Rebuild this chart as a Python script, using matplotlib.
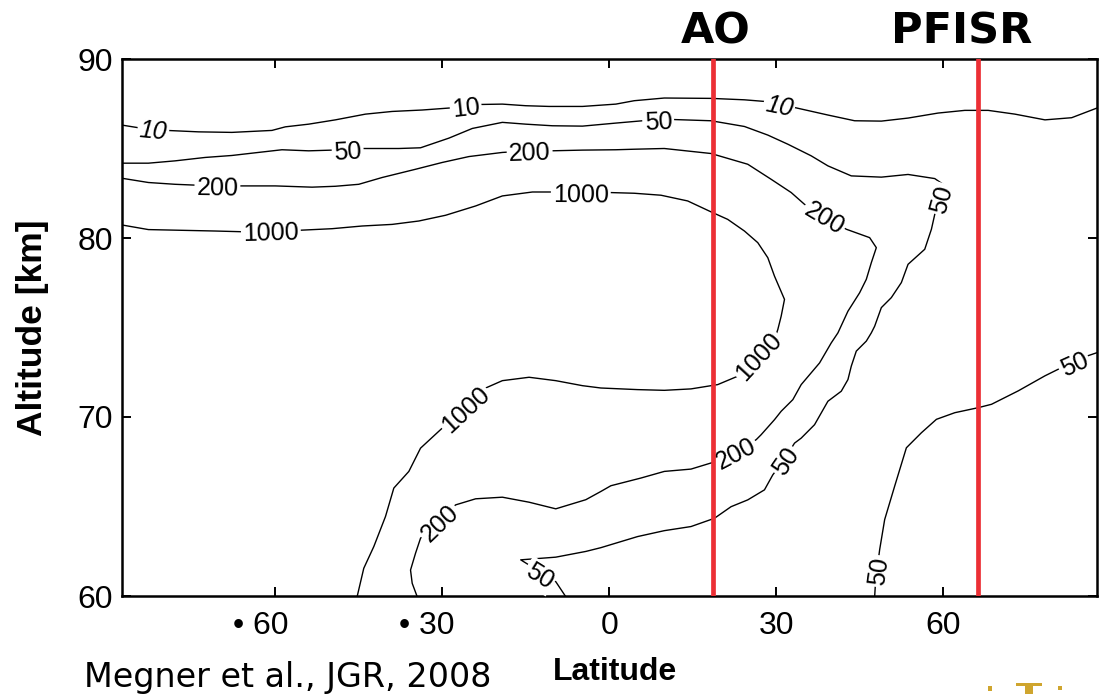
import matplotlib
matplotlib.use("Agg")
import matplotlib.pyplot as plt
import matplotlib.transforms as mtransforms
import numpy as np
from matplotlib.patches import Rectangle

# Contour lines (latitude, altitude km)
c10 = [(-87.6, 86.31), (-84.6, 86.16), (-81.9, 86.08), (-79.5, 86.01), (-73.8, 85.93),
       (-67.8, 85.90), (-60.6, 86.01), (-58.2, 86.21), (-54.0, 86.36), (-49.2, 86.60),
       (-43.8, 86.92), (-39.0, 87.07), (-33.6, 87.15), (-28.8, 87.26), (-25.8, 87.36),
       (-23.1, 87.46), (-19.2, 87.48), (-15.0, 87.39), (-10.8, 87.35), (-4.8, 87.35),
       (1.2, 87.48), (4.5, 87.67), (9.9, 87.82), (18.3, 87.80), (24.3, 87.72),
       (27.9, 87.63), (30.6, 87.46), (33.3, 87.29), (39.3, 86.87), (44.1, 86.55),
       (48.9, 86.53), (53.7, 86.70), (59.1, 86.98), (63.9, 87.13), (68.1, 87.13),
       (72.9, 86.92), (78.3, 86.60), (83.1, 86.72), (87.9, 87.29)]

c50_upper = [(-87.6, 84.18), (-82.8, 84.18), (-78.0, 84.31), (-72.6, 84.50), (-67.8, 84.61),
             (-63.6, 84.76), (-58.8, 84.93), (-54.0, 84.87), (-49.8, 84.91), (-47.0, 84.95),
             (-44.4, 85.00), (-37.8, 85.00), (-33.9, 85.04), (-28.8, 85.58), (-24.6, 86.12),
             (-19.2, 86.46), (-15.0, 86.36), (-10.2, 86.27), (-4.8, 86.25), (1.2, 86.42),
             (6.0, 86.55), (8.8, 86.58), (11.4, 86.62), (18.3, 86.55), (24.3, 86.23),
             (28.5, 85.75), (32.1, 85.24), (36.3, 84.59), (39.3, 84.03), (43.5, 83.47),
             (48.9, 83.40), (53.7, 83.55), (58.5, 83.32), (60.0, 83.00), (59.4, 82.20),
             (58.5, 81.32), (57.9, 80.49), (56.7, 79.37), (53.7, 78.53), (52.5, 77.51),
             (50.7, 76.67), (48.9, 76.11), (47.7, 75.07), (47.1, 74.70), (46.2, 74.24),
             (44.4, 73.68), (43.5, 72.84), (42.9, 72.09), (41.7, 71.44), (39.3, 70.88),
             (36.9, 69.57), (34.5, 68.82), (33.3, 68.54), (31.4, 67.60), (29.4, 66.77),
             (27.9, 65.93), (24.9, 65.37), (21.9, 64.99), (18.9, 64.34), (14.7, 63.88),
             (9.9, 63.65), (5.1, 63.32), (-1.5, 62.70), (-4.2, 62.49), (-9.6, 62.17),
             (-15.9, 62.02), (-14.4, 61.73), (-12.3, 61.23), (-9.6, 60.80), (-7.8, 59.96)]

c50_right = [(47.7, 59.96), (47.9, 61.0), (48.1, 61.4), (48.6, 62.59), (49.5, 64.27),
             (51.3, 66.14), (53.4, 68.28), (56.1, 69.12), (58.8, 69.87), (62.1, 70.24),
             (66.3, 70.52), (68.7, 70.71), (73.5, 71.46), (78.3, 72.30), (80.7, 72.67),
             (83.4, 73.05), (86.1, 73.43), (87.9, 73.62)]

c200 = [(-87.6, 83.34), (-82.8, 83.10), (-78.0, 83.00), (-74.1, 82.95), (-70.4, 82.92),
        (-66.6, 82.91), (-60.0, 82.91), (-53.4, 82.84), (-49.2, 82.89), (-45.0, 83.00),
        (-40.8, 83.38), (-34.8, 83.84), (-30.0, 84.22), (-25.2, 84.55), (-19.2, 84.78),
        (-14.3, 84.87), (-10.5, 84.87), (-4.8, 84.91), (1.2, 84.93), (4.5, 84.96),
        (9.9, 85.00), (18.3, 84.72), (24.9, 84.12), (29.1, 83.28), (32.7, 82.54),
        (35.1, 81.88), (38.8, 81.20), (42.6, 80.49), (46.8, 80.02), (48.0, 79.46),
        (47.1, 78.62), (46.2, 77.69), (45.0, 76.94), (42.9, 75.91), (41.1, 74.70),
        (39.9, 74.14), (37.8, 73.02), (34.5, 71.81), (33.0, 70.97), (30.9, 70.32),
        (29.7, 69.85), (27.3, 69.01), (26.4, 68.73), (22.6, 68.05), (18.6, 67.46),
        (14.7, 67.09), (9.9, 66.96), (5.7, 66.59), (0.3, 66.16), (-1.5, 65.84),
        (-4.2, 65.38), (-9.6, 64.87), (-14.4, 65.24), (-19.2, 65.52), (-24.0, 65.43),
        (-27.6, 65.09), (-30.75, 64.16), (-33.9, 63.23), (-34.8, 62.39), (-35.7, 61.45),
        (-35.4, 60.71), (-34.5, 59.96)]

c1000 = [(-87.6, 80.73), (-82.8, 80.47), (-76.8, 80.43), (-70.8, 80.39), (-66.0, 80.35),
         (-60.8, 80.39), (-55.8, 80.43), (-49.8, 80.52), (-44.4, 80.67), (-39.0, 80.76),
         (-34.2, 80.95), (-29.4, 81.27), (-24.0, 81.79), (-19.2, 82.35), (-13.8, 82.57),
         (-10.2, 82.57), (-5.1, 82.55), (0.0, 82.54), (4.5, 82.50), (9.3, 82.39),
         (14.1, 82.07), (18.3, 81.46), (21.3, 81.04), (24.3, 80.39), (26.7, 79.74),
         (28.5, 78.90), (29.7, 77.87), (31.5, 76.57), (30.9, 75.63), (30.3, 74.89),
         (30.0, 74.61), (26.6, 73.45), (23.1, 72.28), (19.5, 71.81), (14.7, 71.57),
         (9.9, 71.49), (5.1, 71.53), (-1.5, 71.62), (-4.8, 71.75), (-9.6, 72.03),
         (-14.4, 72.22), (-19.2, 72.03), (-22.2, 71.62), (-26.1, 70.50), (-30.0, 69.38),
         (-33.9, 68.26), (-36.0, 66.96), (-38.7, 66.03), (-40.2, 64.44), (-42.3, 62.76),
         (-44.1, 61.55), (-45.3, 59.96)]

# contour labels: (text, line, lat, alt, italic)
labels = [("10", "c10", -81.9, 86.08, True), ("10", "c10", -25.8, 87.36, False),
          ("10", "c10", 30.6, 87.46, True),
          ("50", "c50_upper", -47.0, 84.95, False), ("50", "c50_upper", 8.8, 86.58, False),
          ("50", "c50_upper", 59.4, 82.20, False), ("50", "c50_upper", 31.4, 67.60, False),
          ("50", "c50_upper", -12.3, 61.23, False),
          ("50", "c50_right", 48.1, 61.4, False), ("50", "c50_right", 83.4, 73.05, False),
          ("200", "c200", -70.4, 82.92, False), ("200", "c200", -14.3, 84.87, False),
          ("200", "c200", 38.8, 81.20, False), ("200", "c200", 22.6, 68.05, False),
          ("200", "c200", -30.75, 64.16, False),
          ("1000", "c1000", -60.8, 80.39, False), ("1000", "c1000", -5.1, 82.55, False),
          ("1000", "c1000", 26.6, 73.45, False), ("1000", "c1000", -26.1, 70.50, False)]

lines = {"c10": c10, "c50_upper": c50_upper, "c50_right": c50_right,
         "c200": c200, "c1000": c1000}

radar_names = ["AO", "PFISR"]
radar_lat = [18.7, 66.3]
radar_text_lat = [19.2, 63.3]

x_ticks = [-60, -30, 0, 30, 60]
x_tick_labels = ["\u2022 60", "\u2022 30", "0", "30", "60"]
y_ticks = [60, 70, 80, 90]

W, H = 1105, 694
fig = plt.figure(figsize=(W / 100, H / 100), dpi=100)
ax = fig.add_axes([121.7 / W, 1 - 596 / H, (1096.7 - 121.7) / W, (596 - 59) / H])
ax.set_xlim(-87.6, 87.6)
ax.set_ylim(60, 90)

for name, pts in lines.items():
    arr = np.array(pts)
    ax.plot(arr[:, 0], arr[:, 1], color="black", lw=1.0, zorder=2)

# contour labels oriented along the line
for txt, key, la, al, ital in labels:
    arr = np.array(lines[key])
    disp = ax.transData.transform(arr)
    p = ax.transData.transform((la, al))
    i = int(np.argmin(np.hypot(disp[:, 0] - p[0], disp[:, 1] - p[1])))
    i0, i1 = max(i - 1, 0), min(i + 1, len(arr) - 1)
    dx, dy = disp[i1] - disp[i0]
    ang = np.degrees(np.arctan2(dy, dx))
    if ang > 90:
        ang -= 180
    if ang < -90:
        ang += 180
    ax.text(la, al, txt, rotation=ang, rotation_mode="anchor", ha="center",
            va="center_baseline", fontsize=18, family="Liberation Sans",
            style="italic" if ital else "normal", zorder=3,
            bbox=dict(boxstyle="square,pad=0.08", fc="white", ec="none"))

for name, la, tla in zip(radar_names, radar_lat, radar_text_lat):
    ax.axvline(la, color="#EC2F35", lw=3.4, zorder=5)
    ax.text(tla, 90.35, name, ha="center", va="bottom", fontsize=31,
            fontweight="bold", family="DejaVu Sans", zorder=6)

ax.set_xticks(x_ticks)
ax.set_xticklabels(x_tick_labels)
ax.set_yticks(y_ticks)
ax.tick_params(direction="in", length=6.5, width=1.4, top=True, right=True,
               labelsize=23)
ax.tick_params(axis="x", pad=11)
ax.tick_params(axis="y", pad=6)
for lbl in ax.get_xticklabels() + ax.get_yticklabels():
    lbl.set_family("Liberation Sans")
for sp in ax.spines.values():
    sp.set_linewidth(1.8)

# the bullet labels hang left of the tick, digits stay near the tick
shift = mtransforms.ScaledTranslation(-15 / 100, 0, fig.dpi_scale_trans)
for lbl in ax.get_xticklabels():
    if lbl.get_text().startswith("\u2022"):
        lbl.set_transform(lbl.get_transform() + shift)

fig.text(0.029, 0.528, "Altitude [km]", rotation=90, ha="center", va="center",
         fontsize=25.5, fontweight="bold", family="Liberation Sans")
fig.text(615 / W, 1 - 680 / H, "Latitude", ha="center", va="baseline",
         fontsize=23, fontweight="bold", family="Liberation Sans")
fig.text(84 / W, 1 - 687 / H, "Megner et al., JGR, 2008", ha="left", va="baseline",
         fontsize=24, family="DejaVu Sans")

# partial gold logo cut off in the bottom-right corner
gold = "#CFA52E"
for x0, y0, w, h in [(1016, 683, 26, 3), (1025, 686, 8, 8), (988, 686, 4, 5), (1058, 686, 4, 4)]:
    fig.patches.append(Rectangle((x0 / W, 1 - (y0 + h) / H), w / W, h / H,
                                 transform=fig.transFigure, color=gold, lw=0))

fig.savefig("out.png", dpi=100)
